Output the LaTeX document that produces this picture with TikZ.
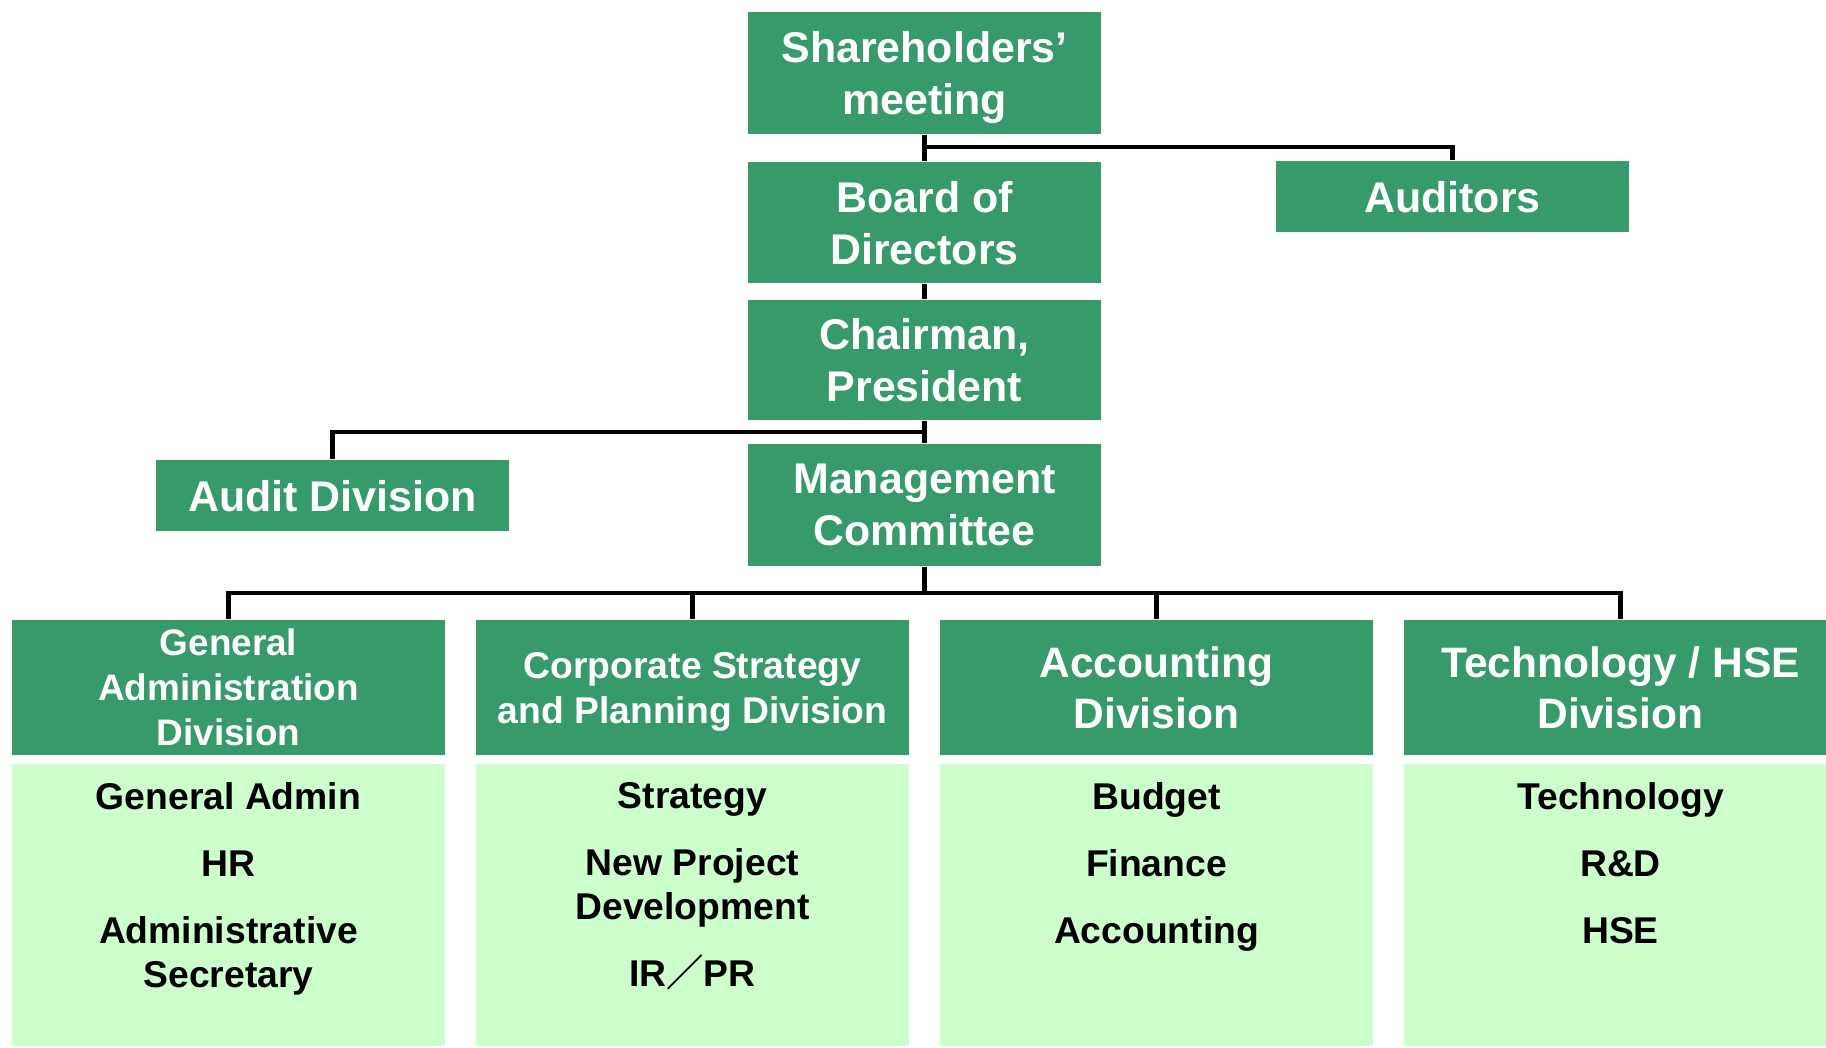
\documentclass[tikz,border=0pt]{standalone}
\usepackage{fontspec}
\setmainfont{Liberation Sans}
\newfontfamily\cjkfont{Noto Sans CJK JP}
\usetikzlibrary{calc}
\definecolor{boxgreen}{RGB}{54,154,106}
\definecolor{palegreen}{RGB}{204,255,204}

\begin{document}
\begin{tikzpicture}[x=0.01cm,y=-0.01cm,
  bigbox/.style={rectangle,fill=boxgreen,text=white,inner sep=0pt,text depth=0pt,minimum width=3.53cm,align=center,font=\bfseries\fontsize{12.2}{14.8}\selectfont},
  divhead/.style={rectangle,fill=boxgreen,text=white,inner sep=0pt,text depth=0pt,minimum width=4.33cm,minimum height=1.35cm,align=center},
  divbody/.style={rectangle,fill=palegreen,inner sep=0pt,minimum width=4.33cm,minimum height=2.82cm},
  items/.style={inner sep=0pt,anchor=north,align=center,font=\bfseries\fontsize{10.6}{12.5}\selectfont},
  link/.style={line width=1.4pt}]
  \clip (0,0) rectangle (1826,1048);
  \draw (924.5,73) node[bigbox,minimum height=1.22cm] (sh) {Shareholders'\\meeting};
  \draw (924.5,222.5) node[bigbox,minimum height=1.21cm] (bod) {Board of\\Directors};
  \draw (924.5,360) node[bigbox,minimum height=1.20cm] (chair) {Chairman,\\President};
  \draw (924.5,505) node[bigbox,minimum height=1.22cm] (mc) {Management\\Committee};
  \draw (1452.5,196.5) node[bigbox,minimum height=0.71cm] (aud) {Auditors};
  \draw (332.5,495.5) node[bigbox,minimum height=0.71cm] (ad) {Audit Division};

  \draw (228.5,687.5) node[divhead,font=\bfseries\fontsize{10.5}{12.8}\selectfont] (gaH) {General\\Administration\\Division};
  \draw (692.5,687.5) node[divhead,font=\bfseries\fontsize{10.6}{12.8}\selectfont] (cspH) {Corporate Strategy\\and Planning Division};
  \draw (1156.5,687.5) node[divhead,font=\bfseries\fontsize{12.1}{14.5}\selectfont] (accH) {Accounting\\Division};
  \draw (1620.5,687.5) node[divhead,font=\bfseries\fontsize{12.1}{14.5}\selectfont] (techH) {Technology / HSE\\Division};

  \draw (228.5,905) node[divbody] (gaB) {};
  \draw (692.5,905) node[divbody] (cspB) {};
  \draw (1156.5,905) node[divbody] (accB) {};
  \draw (1620.5,905) node[divbody] (techB) {};
  \node[items] (gaT) at ($(gaB.north)+(0,19)$) {General Admin\\[6.5pt]HR\\[6.5pt]Administrative\\Secretary};
  \node[items] (cspT) at ($(cspB.north)+(0,19)$) {Strategy\\[6.5pt]New Project\\Development\\[6.5pt]IR{\cjkfont ／}PR};
  \node[items] (accT) at ($(accB.north)+(0,19)$) {Budget\\[6.5pt]Finance\\[6.5pt]Accounting};
  \node[items] (techT) at ($(techB.north)+(0,19)$) {Technology\\[6.5pt]R\&D\\[6.5pt]HSE};

  \draw[link] (sh.south) -- (bod.north);
  \coordinate (shjoin) at (924.5,147);
  \draw[link] (shjoin) -| (aud.north);
  \draw[link] (bod.south) -- (chair.north);
  \draw[link] (chair.south) -- (mc.north);
  \coordinate (chjoin) at (924.5,432);
  \draw[link] (chjoin) -| (ad.north);
  \coordinate (mcjoin) at (924.5,593);
  \draw[link] (mc.south) -- (mcjoin);
  \foreach \d in {gaH,cspH,accH,techH}
    \draw[link] (mcjoin) -| (\d.north);
\end{tikzpicture}
\end{document}
